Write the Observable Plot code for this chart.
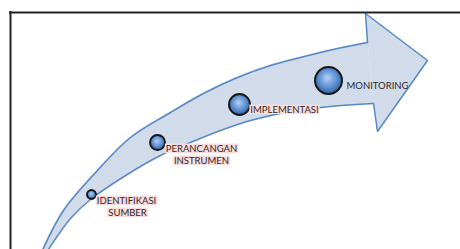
<!DOCTYPE html>
<html>
<head>
<meta charset="utf-8">
<script src="https://cdn.jsdelivr.net/npm/d3@7"></script>
<script src="https://cdn.jsdelivr.net/npm/@observablehq/plot@0.6"></script>
<style>
  html, body { margin: 0; padding: 0; background: #fff; }
  #chart svg { display: block; }
</style>
</head>
<body>
<div id="chart"></div>
<script>
// Arrow shaft outline (diagram units = page pixels, y grows downward)
const upperX = [41, 63, 97, 130, 170, 203, 237, 270, 300, 333, 367];
const upperY = [252, 210, 170, 137, 112, 93, 77, 65, 57, 49, 42];
const lowerX = [46, 70, 90, 130, 160, 190, 220, 250, 290, 330, 373];
const lowerY = [252, 218, 199, 172, 155, 142, 130, 120, 111, 106, 103];
// Arrow head outline
const headX = [367, 365, 427, 377, 373];
const headY = [42, 13, 60, 131, 103];
// Stage nodes
const nodeX = [91, 157, 239, 328];
const nodeY = [194, 142, 104, 80];
const nodeR = [4.5, 7.5, 10.5, 13.5];
// Label lines
const labelText = ["IDENTIFIKASI", "SUMBER", "PERANCANGAN", "INSTRUMEN", "IMPLEMENTASI", "MONITORING"];
const labelX = [126, 127, 201, 201, 284, 377];
const labelY = [200, 212, 148, 160, 109, 85];
const labelHighlight = [true, true, true, true, true, false];
// Frame
const frameLeft = [10];
const frameTop = [12];

const shaft = upperX.map((x, i) => ({ux: x, uy: upperY[i], lx: lowerX[i], ly: lowerY[i]}));
const upper = upperX.map((x, i) => ({x, y: upperY[i]}));
const lower = lowerX.map((x, i) => ({x, y: lowerY[i]}));
const head = headX.map((x, i) => ({x, y: headY[i]}));
const nodes = nodeX.map((x, i) => ({x, y: nodeY[i], r: nodeR[i]}));
const labels = labelText.map((t, i) => ({t, x: labelX[i], y: labelY[i], hl: labelHighlight[i]}));

const fillCol = "#d2dbea";
const strokeCol = "#5589c6";

const svg = Plot.plot({
  width: 460,
  height: 249,
  margin: 0,
  x: {domain: [0, 460], range: [0, 460], axis: null},
  y: {domain: [0, 249], range: [0, 249], axis: null},
  r: {type: "identity"},
  style: {background: "#fff"},
  marks: [
    Plot.area(shaft, {x1: "ux", y1: "uy", x2: "lx", y2: "ly", curve: "catmull-rom", fill: fillCol, stroke: fillCol, strokeWidth: 1}),
    Plot.line(head, {x: "x", y: "y", fill: fillCol, stroke: strokeCol, strokeWidth: 1.5, strokeLinejoin: "miter"}),
    Plot.line(upper, {x: "x", y: "y", curve: "catmull-rom", stroke: strokeCol, strokeWidth: 1.5}),
    Plot.line(lower, {x: "x", y: "y", curve: "catmull-rom", stroke: strokeCol, strokeWidth: 1.5}),
    Plot.dot(nodes, {x: "x", y: "y", r: "r", fill: "url(#nodeGrad)", stroke: "#151515", strokeWidth: 1.9}),
    Plot.text(labels, {x: "x", y: "y", text: "t", textAnchor: "middle", fill: "#2e2828", fontSize: 9.5, fontFamily: "Lato", lineAnchor: "middle"}),
    Plot.ruleX(frameLeft, {x: d => d, y1: frameTop[0] - 1, y2: 260, stroke: "#222", strokeWidth: 2}),
    Plot.ruleY(frameTop, {y: d => d, x1: frameLeft[0] - 1, x2: 470, stroke: "#222", strokeWidth: 2})
  ]
});

document.getElementById("chart").appendChild(svg);

// gradient for the nodes
const ns = "http://www.w3.org/2000/svg";
const defs = document.createElementNS(ns, "defs");
defs.innerHTML = `<radialGradient id="nodeGrad" cx="50%" cy="45%" r="55%" fx="45%" fy="40%">
  <stop offset="0%" stop-color="#b4d0f2"/>
  <stop offset="55%" stop-color="#6496d6"/>
  <stop offset="100%" stop-color="#2f5e9e"/>
</radialGradient>`;
svg.insertBefore(defs, svg.firstChild);

// pink highlight boxes behind highlighted label lines
const textGroup = svg.querySelector('g[aria-label="text"]');
const textNodes = textGroup.querySelectorAll("text");
const hlGroup = document.createElementNS(ns, "g");
if (textGroup.getAttribute("transform")) hlGroup.setAttribute("transform", textGroup.getAttribute("transform"));
textNodes.forEach((el, i) => {
  if (!labels[i].hl) return;
  const b = el.getBBox();
  const rect = document.createElementNS(ns, "rect");
  rect.setAttribute("x", b.x - 1);
  rect.setAttribute("y", b.y + 1);
  rect.setAttribute("width", b.width + 2);
  rect.setAttribute("height", b.height - 1.5);
  rect.setAttribute("fill", "#f9dcdc");
  const tr = el.getAttribute("transform");
  if (tr) rect.setAttribute("transform", tr);
  hlGroup.appendChild(rect);
});
textGroup.parentNode.insertBefore(hlGroup, textGroup);
</script>
</body>
</html>
